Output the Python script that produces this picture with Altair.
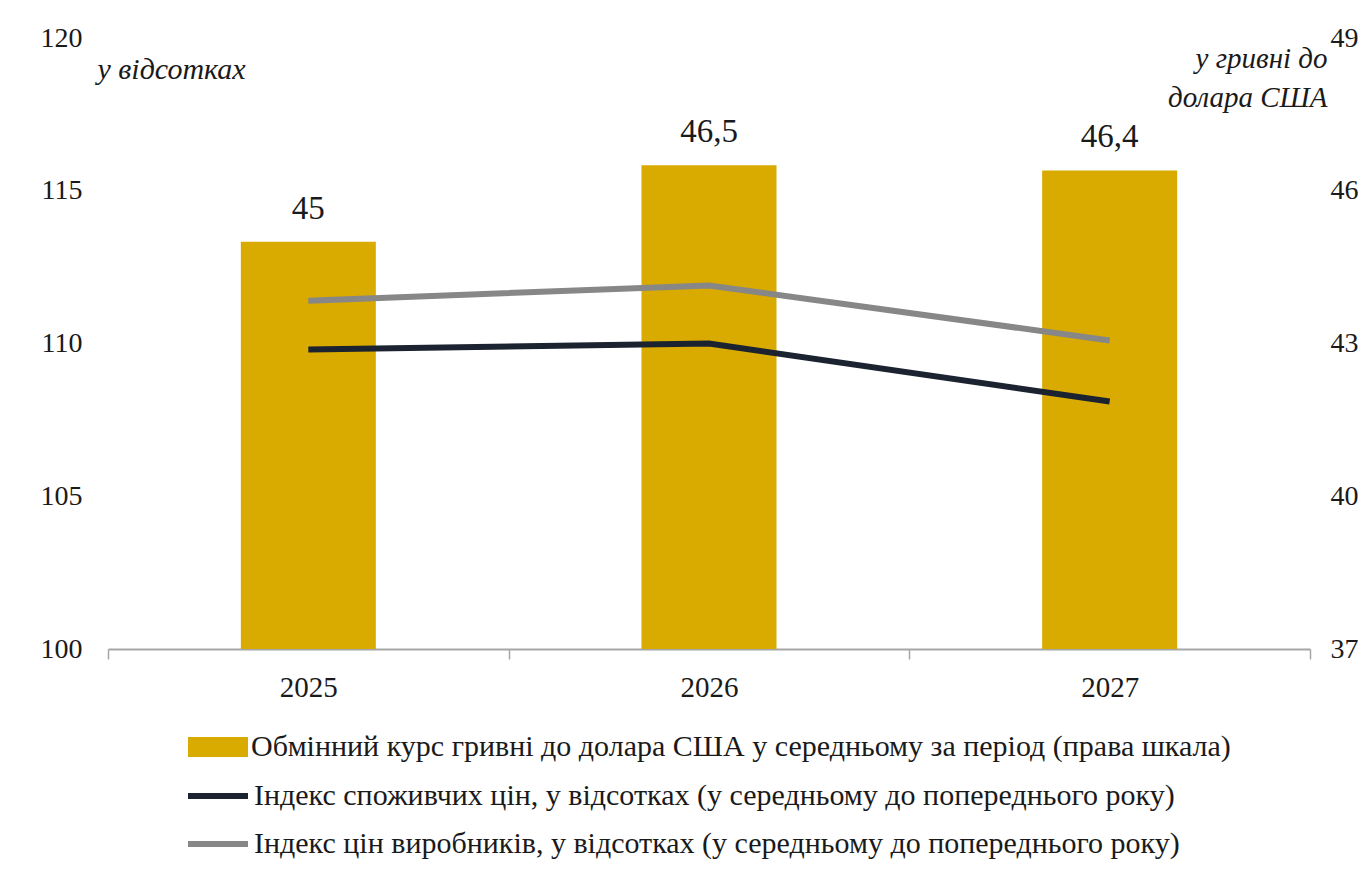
import altair as alt
import pandas as pd

years = ["2025", "2026", "2027"]
rate = [45.0, 46.5, 46.4]
rate_labels = ["45", "46,5", "46,4"]
cpi = [109.8, 110.0, 108.1]
ppi = [111.4, 111.9, 110.1]

bar_name = "Обмінний курс гривні до долара США у середньому за період (права шкала)"
cpi_name = "Індекс споживчих цін, у відсотках (у середньому до попереднього року)"
ppi_name = "Індекс цін виробників, у відсотках (у середньому до попереднього року)"

FONT = "Liberation Serif"
TXT = "#1a1a1a"

bars_df = pd.DataFrame({"year": years, "rate": rate, "label": rate_labels, "series": bar_name})
lines_df = pd.DataFrame({
    "year": years + years,
    "value": cpi + ppi,
    "series": [cpi_name] * 3 + [ppi_name] * 3,
})

x_enc = alt.X("year:O", title=None,
              scale=alt.Scale(paddingInner=0, paddingOuter=0),
              axis=alt.Axis(labelAngle=0, labelFont=FONT, labelFontSize=29, labelColor=TXT,
                            labelPadding=14, domainColor="#a6a6a6", domainWidth=2,
                            tickColor="#a6a6a6", tickWidth=1.5, tickSize=10, tickBand="extent",
                            grid=False))

right_scale = alt.Scale(domain=[37, 49], zero=False, nice=False)
bars = alt.Chart(bars_df).mark_bar(size=135).encode(
    x=x_enc,
    y=alt.Y("rate:Q", scale=right_scale,
            axis=alt.Axis(orient="right", values=[37, 40, 43, 46, 49], grid=False, domain=False,
                          ticks=False, labelFont=FONT, labelFontSize=28, labelColor=TXT,
                          labelPadding=20,
                          title=["у гривні до", "долара США"], titleAngle=0, titleFont=FONT,
                          titleFontStyle="italic", titleFontWeight="normal", titleFontSize=29,
                          titleColor=TXT, titleAlign="right", titleBaseline="alphabetic",
                          titleX=17, titleY=29, titleLineHeight=39)),
    y2=alt.datum(37),
    fill=alt.Fill("series:N", scale=alt.Scale(domain=[bar_name], range=["#D9AA00"]),
                  legend=alt.Legend(title=None, orient="none", legendX=80, legendY=679,
                                    symbolType="M-1,-0.33L1,-0.33L1,0.33L-1,0.33Z",
                                    symbolSize=3600, symbolStrokeWidth=0, symbolOpacity=1,
                                    labelFont=FONT, labelFontSize=30, labelColor=TXT,
                                    labelLimit=1300, labelOffset=3)),
)

texts = alt.Chart(bars_df).mark_text(baseline="alphabetic", dy=-23, font=FONT, fontSize=33,
                                     color=TXT).encode(
    x=alt.X("year:O"),
    y=alt.Y("rate:Q", scale=right_scale),
    text="label:N",
)

right_layer = alt.layer(bars, texts)

lines = alt.Chart(lines_df).mark_line(strokeWidth=6).encode(
    x=alt.X("year:O"),
    y=alt.Y("value:Q", scale=alt.Scale(domain=[100, 120], zero=False, nice=False),
            axis=alt.Axis(orient="left", values=[100, 105, 110, 115, 120], grid=False, domain=False,
                          ticks=False, labelFont=FONT, labelFontSize=28, labelColor=TXT,
                          labelPadding=26,
                          title="у відсотках", titleAngle=0, titleFont=FONT, titleFontStyle="italic",
                          titleFontWeight="normal", titleFontSize=30, titleColor=TXT,
                          titleAlign="left", titleBaseline="alphabetic", titleX=-11, titleY=40)),
    stroke=alt.Stroke("series:N", scale=alt.Scale(domain=[cpi_name, ppi_name],
                                                  range=["#1b2330", "#878787"]),
                      legend=alt.Legend(title=None, orient="none", legendX=77, legendY=725,
                                        symbolType="stroke", symbolSize=3600, symbolStrokeWidth=6,
                                        rowPadding=-14,
                                        labelFont=FONT, labelFontSize=30, labelColor=TXT,
                                        labelLimit=1300, labelOffset=3)),
)

chart = alt.layer(right_layer, lines).resolve_scale(y="independent", fill="independent",
                                                     stroke="independent").properties(
    width=1202, height=611,
    padding={"left": 32, "top": 16, "right": 0, "bottom": 0},
    background="white",
).configure_view(stroke=None)

chart.save("out.html", embed_options={"renderer": "svg", "actions": False})
